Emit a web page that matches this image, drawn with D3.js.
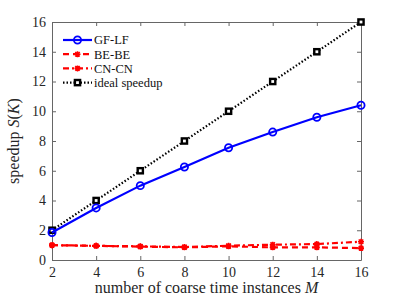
<!DOCTYPE html>
<html>
<head>
<meta charset="utf-8">
<script src="https://cdn.jsdelivr.net/npm/d3@7"></script>
<style>
  body { margin: 0; background: #fff; }
  text { font-family: "Liberation Serif", "DejaVu Serif", serif; }
</style>
</head>
<body>
<svg id="chart"></svg>
<script>
// Data
const instances = [2, 4, 6, 8, 10, 12, 14, 16];
const gfLf = [1.85, 3.5, 5.0, 6.25, 7.55, 8.6, 9.6, 10.4];
const beBe = [1.0, 0.95, 0.9, 0.85, 0.92, 0.85, 0.85, 0.8];
const cnCn = [1.0, 0.95, 0.92, 0.87, 0.96, 1.03, 1.07, 1.23];
const ideal = [2, 4, 6, 8, 10, 12, 14, 16];
const xTicks = [2, 4, 6, 8, 10, 12, 14, 16];
const yTicks = [0, 2, 4, 6, 8, 10, 12, 14, 16];

const width = 399;
const height = 299;
const margin = { top: 22, right: 38, bottom: 39, left: 52 };

const svg = d3.select("#chart").attr("width", width).attr("height", height);

const xScale = d3.scaleLinear().domain([2, 16]).range([margin.left, width - margin.right]);
const yScale = d3.scaleLinear().domain([0, 16]).range([height - margin.bottom, margin.top]);

const axisColor = "#666";

// Box with inward ticks on all sides
function styleAxis(g) {
  g.select(".domain").attr("stroke", axisColor);
  g.selectAll(".tick line").attr("stroke", axisColor);
  g.selectAll("text").attr("fill", "#262626").style("font-size", "14px");
}

svg.append("g")
  .attr("transform", `translate(0,${yScale(0)})`)
  .call(d3.axisBottom(xScale).tickValues(xTicks).tickSizeInner(-4).tickSizeOuter(0).tickPadding(7))
  .call(styleAxis);

svg.append("g")
  .attr("transform", `translate(0,${yScale(16)})`)
  .call(d3.axisTop(xScale).tickValues(xTicks).tickSizeInner(-4).tickSizeOuter(0).tickFormat(""))
  .call(styleAxis);

svg.append("g")
  .attr("transform", `translate(${xScale(2)},0)`)
  .call(d3.axisLeft(yScale).tickValues(yTicks).tickSizeInner(-4).tickSizeOuter(0).tickPadding(6))
  .call(styleAxis);

svg.append("g")
  .attr("transform", `translate(${xScale(16)},0)`)
  .call(d3.axisRight(yScale).tickValues(yTicks).tickSizeInner(-4).tickSizeOuter(0).tickFormat(""))
  .call(styleAxis);

// Series
const series = [
  { name: "BE-BE", values: beBe, color: "#ff0000", dash: "6,4", marker: "star" },
  { name: "CN-CN", values: cnCn, color: "#ff0000", dash: "6,3,2,3", marker: "star" },
  { name: "ideal speedup", values: ideal, color: "#000", dash: "1.5,2", marker: "square" },
  { name: "GF-LF", values: gfLf, color: "#0000ff", dash: null, marker: "circle" }
];

const line = d3.line()
  .x((d, i) => xScale(instances[i]))
  .y((d) => yScale(d));

function drawMarker(g, type, color, x, y) {
  if (type === "circle") {
    g.append("circle").attr("cx", x).attr("cy", y).attr("r", 3.6)
      .attr("fill", "none").attr("stroke", color).attr("stroke-width", 1.8);
  } else if (type === "square") {
    g.append("rect").attr("x", x - 2.6).attr("y", y - 2.6).attr("width", 5.2).attr("height", 5.2)
      .attr("fill", "#fff").attr("stroke", color).attr("stroke-width", 2.4);
  } else {
    const s = 3;
    g.append("path")
      .attr("d", `M${x - s},${y}L${x + s},${y}M${x},${y - s}L${x},${y + s}` +
        `M${x - s * 0.75},${y - s * 0.75}L${x + s * 0.75},${y + s * 0.75}` +
        `M${x - s * 0.75},${y + s * 0.75}L${x + s * 0.75},${y - s * 0.75}`)
      .attr("stroke", color).attr("stroke-width", 1.6).attr("fill", "none");
  }
}

series.forEach((s) => {
  svg.append("path")
    .datum(s.values)
    .attr("d", line)
    .attr("fill", "none")
    .attr("stroke", s.color)
    .attr("stroke-width", 2.2)
    .attr("stroke-dasharray", s.dash);
  const mg = svg.append("g");
  s.values.forEach((v, i) => drawMarker(mg, s.marker, s.color, xScale(instances[i]), yScale(v)));
});

// Legend
const legendOrder = ["GF-LF", "BE-BE", "CN-CN", "ideal speedup"];
const legend = svg.append("g");
legendOrder.forEach((name, i) => {
  const s = series.find((d) => d.name === name);
  const y = 40 + i * 14.2;
  legend.append("line")
    .attr("x1", 63).attr("x2", 92).attr("y1", y).attr("y2", y)
    .attr("stroke", s.color).attr("stroke-width", 2.2)
    .attr("stroke-dasharray", s.dash);
  drawMarker(legend, s.marker, s.color, 77.5, y);
  legend.append("text")
    .attr("x", 94).attr("y", y).attr("dy", "0.35em")
    .style("font-size", "12.5px").attr("fill", "#111")
    .text(name);
});

// Axis labels
const xLabel = svg.append("text")
  .attr("x", (xScale(2) + xScale(16)) / 2)
  .attr("y", height - 6)
  .style("text-anchor", "middle")
  .style("font-size", "16px")
  .attr("fill", "#262626");
xLabel.append("tspan").text("number of coarse time instances ");
xLabel.append("tspan").attr("font-style", "italic").text("M");

const yLabel = svg.append("text")
  .attr("transform", `translate(19,${(yScale(0) + yScale(16)) / 2}) rotate(-90)`)
  .style("text-anchor", "middle")
  .style("font-size", "16px")
  .attr("fill", "#262626");
yLabel.append("tspan").text("speedup ");
yLabel.append("tspan").attr("font-style", "italic").text("S");
yLabel.append("tspan").text("(");
yLabel.append("tspan").attr("font-style", "italic").text("K");
yLabel.append("tspan").text(")");
</script>
</body>
</html>
